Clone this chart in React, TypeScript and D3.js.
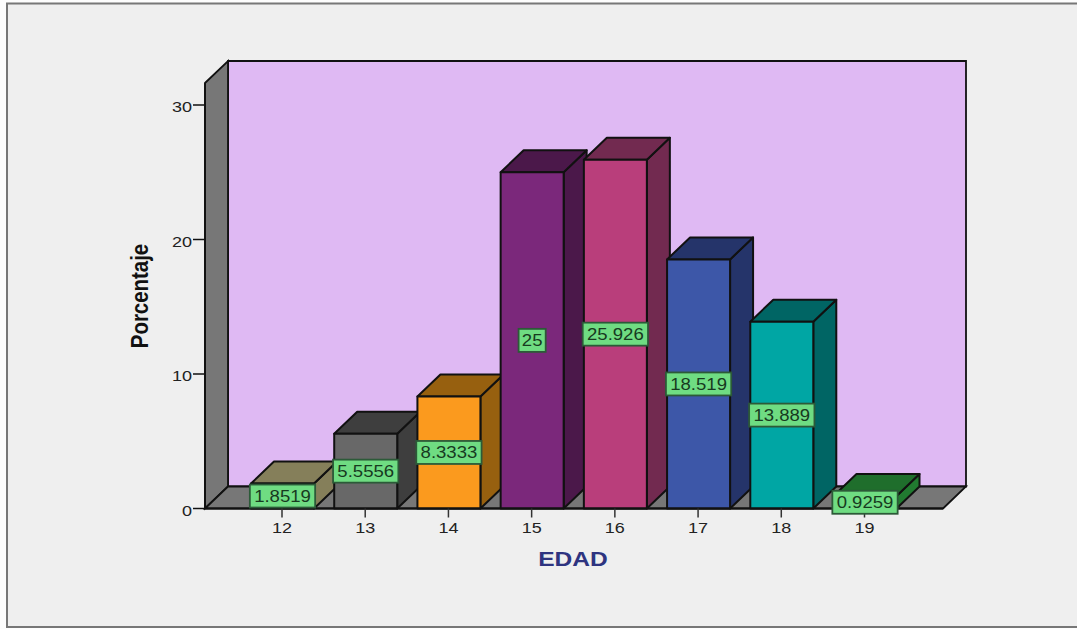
import React from "react";
import * as d3 from "d3";

const categories = ["12", "13", "14", "15", "16", "17", "18", "19"];
const percentages = [1.8519, 5.5556, 8.3333, 25, 25.926, 18.519, 13.889, 0.9259];
const valueLabels = ["1.8519", "5.5556", "8.3333", "25", "25.926", "18.519", "13.889", "0.9259"];
const frontColors = ["#d8d08f", "#686868", "#fb9a1e", "#7b287b", "#b93e7b", "#3d57a8", "#00a6a4", "#2a8a3a"];
const sideColors = ["#857f5a", "#3e3e3e", "#97600f", "#4b184a", "#722a50", "#25346a", "#006564", "#217a30"];
const topColors = ["#857f5a", "#3e3e3e", "#97600f", "#4b184a", "#722a50", "#25346a", "#006564", "#1f6e2c"];
const yTicks = [0, 10, 20, 30];

const W = 1077;
const H = 629;
const DX = 23;
const DY = -22;
const BAR_W = 63;
const AXIS_LEFT = 205;
const AXIS_RIGHT = 943;
const LINE = "#111";
const FONT = "'Liberation Sans', Arial, sans-serif";

const x = d3.scalePoint<string>().domain(categories).range([282, 864.5]);
const y = d3.scaleLinear().domain([0, 30]).range([508.5, 105]);
const CEILING = 83;

const poly = (pts: [number, number][]) => (d3.line()(pts) as string) + "Z";

// Axis text is widened horizontally, the way the chart export renders it.
function WideText(props: {
  x: number; y: number; size: number; text: string; fill?: string; weight?: string; sx?: number; anchor?: string;
}) {
  const { x: tx, y: ty, size, text, fill = "#222", weight = "normal", sx = 1.2, anchor = "middle" } = props;
  return (
    <text
      transform={`translate(${tx},${ty}) scale(${sx},1)`}
      textAnchor={anchor}
      fontFamily={FONT}
      fontSize={size}
      fontWeight={weight}
      fill={fill}
    >
      {text}
    </text>
  );
}

export default function App() {
  const y0 = y(0);
  return (
    <svg width={W} height={H} style={{ position: "absolute", left: 0, top: 0, display: "block" }}>
      <rect x={0} y={0} width={W} height={H} fill="#fdfdfd" />
      <rect x={7} y={3.5} width={W + 20} height={623.5} fill="#efefef" stroke="#777" strokeWidth={2} />

      {/* back wall, left wall and floor of the 3D box */}
      <path
        d={poly([[AXIS_LEFT + DX, CEILING + DY], [AXIS_RIGHT + DX, CEILING + DY], [AXIS_RIGHT + DX, y0 + DY], [AXIS_LEFT + DX, y0 + DY]])}
        fill="#dfb9f3" stroke={LINE} strokeWidth={1.8}
      />
      <path
        d={poly([[AXIS_LEFT, CEILING], [AXIS_LEFT + DX, CEILING + DY], [AXIS_LEFT + DX, y0 + DY], [AXIS_LEFT, y0]])}
        fill="#777777" stroke={LINE} strokeWidth={1.8}
      />
      <path
        d={poly([[AXIS_LEFT, y0], [AXIS_LEFT + DX, y0 + DY], [AXIS_RIGHT + DX, y0 + DY], [AXIS_RIGHT, y0]])}
        fill="#777777" stroke={LINE} strokeWidth={1.8}
      />

      {/* bars */}
      {categories.map((c, i) => {
        const l = (x(c) as number) - BAR_W / 2 + 0.5;
        const r = l + BAR_W;
        const t = y(percentages[i]);
        return (
          <g key={c} stroke={LINE} strokeWidth={2} strokeLinejoin="round">
            <path d={poly([[r, t], [r + DX, t + DY], [r + DX, y0 + DY], [r, y0]])} fill={sideColors[i]} />
            <path d={poly([[l, t], [l + DX, t + DY], [r + DX, t + DY], [r, t]])} fill={topColors[i]} />
            <path d={poly([[l, t], [r, t], [r, y0], [l, y0]])} fill={frontColors[i]} />
          </g>
        );
      })}

      {/* axes */}
      <line x1={AXIS_LEFT} x2={AXIS_RIGHT} y1={y0} y2={y0} stroke={LINE} strokeWidth={1.8} />
      <line x1={AXIS_LEFT} x2={AXIS_LEFT} y1={y(30) - 22} y2={y0} stroke={LINE} strokeWidth={1.8} />
      {yTicks.map((t) => (
        <g key={t}>
          <line x1={AXIS_LEFT - 12} x2={AXIS_LEFT} y1={y(t)} y2={y(t)} stroke={LINE} strokeWidth={1.5} />
          <WideText x={AXIS_LEFT - 13} y={y(t) + 7} size={15} text={String(t)} anchor="end" />
        </g>
      ))}
      {categories.map((c) => (
        <g key={c}>
          <line x1={x(c)} x2={x(c)} y1={y0} y2={y0 + 9} stroke="#333" strokeWidth={1.5} />
          <WideText x={x(c) as number} y={533} size={15} text={c} />
        </g>
      ))}

      {/* value labels sit at half the bar height */}
      {categories.map((c, i) => {
        const cx = (x(c) as number) + 0.5;
        const cy = y(percentages[i] / 2);
        const w = 8 + 9.55 * valueLabels[i].length;
        return (
          <g key={c}>
            <rect x={cx - w / 2} y={cy - 11.5} width={w} height={23} fill="#6fdc82" stroke="#2c5a38" strokeWidth={1.8} />
            <WideText x={cx} y={cy + 6} size={16} sx={1.16} text={valueLabels[i]} fill="#173a1f" />
          </g>
        );
      })}

      {/* axis titles */}
      <g transform="translate(148,296) rotate(-90)">
        <WideText x={0} y={0} size={24} text="Porcentaje" weight="bold" fill="#111" sx={0.85} />
      </g>
      <WideText x={573} y={566} size={21} text="EDAD" weight="bold" fill="#2e3480" sx={1.17} />
    </svg>
  );
}
